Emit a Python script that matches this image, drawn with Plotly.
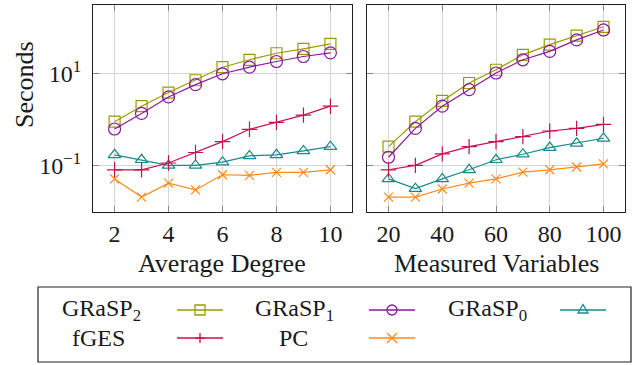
import plotly.graph_objects as go

# ---- data ----
avg_degree = [2, 3, 4, 5, 6, 7, 8, 9, 10]
measured_vars = [20, 30, 40, 50, 60, 70, 80, 90, 100]

deg_grasp2 = [0.90, 1.95, 3.85, 7.1, 13.6, 19.7, 27.3, 34.0, 43.6]
deg_grasp1 = [0.625, 1.36, 3.09, 5.7, 9.8, 13.7, 18.1, 23.2, 27.8]
deg_grasp0 = [0.173, 0.135, 0.102, 0.102, 0.12, 0.164, 0.173, 0.21, 0.26]
deg_fges = [0.082, 0.082, 0.115, 0.194, 0.333, 0.617, 0.87, 1.25, 1.95]
deg_pc = [0.052, 0.021, 0.042, 0.030, 0.064, 0.062, 0.072, 0.072, 0.082]

var_grasp2 = [0.26, 0.90, 2.54, 6.2, 12.0, 25.2, 42.0, 65.6, 102.0]
var_grasp1 = [0.153, 0.645, 1.95, 4.46, 10.2, 19.7, 30.0, 53.0, 87.0]
var_grasp0 = [0.052, 0.032, 0.052, 0.082, 0.135, 0.178, 0.248, 0.307, 0.394]
var_fges = [0.082, 0.102, 0.181, 0.26, 0.333, 0.427, 0.566, 0.645, 0.787]
var_pc = [0.021, 0.021, 0.0315, 0.042, 0.052, 0.073, 0.082, 0.094, 0.110]

series_names = ["GRaSP<sub>2</sub>", "GRaSP<sub>1</sub>", "GRaSP<sub>0</sub>", "fGES", "PC"]
y_tickvals = [0.1, 10]
y_ticktext = ["10<sup>−1</sup>", "10<sup>1</sup>"]
x1_ticks = [2, 4, 6, 8, 10]
x2_ticks = [20, 40, 60, 80, 100]

# ---- styles ----
W, H = 636, 365
colors = ["#9a9a00", "#8b1a9b", "#178a8a", "#c8104f", "#ff8a1a"]
symbols = ["square-open", "circle-open", "triangle-up-open", "cross-thin-open", "x-thin-open"]
msizes = [11, 12, 11, 11, 9]
FONT = "Liberation Serif, Times New Roman, Times, serif"
TXT = "#1a1a1a"

fig = go.Figure()
deg_sets = [deg_grasp2, deg_grasp1, deg_grasp0, deg_fges, deg_pc]
var_sets = [var_grasp2, var_grasp1, var_grasp0, var_fges, var_pc]
for i in range(5):
    for xs, ys, xa, ya in [(avg_degree, deg_sets[i], "x", "y"), (measured_vars, var_sets[i], "x2", "y2")]:
        fig.add_trace(go.Scatter(
            x=xs, y=ys, xaxis=xa, yaxis=ya, mode="lines+markers",
            name=series_names[i], showlegend=False,
            line=dict(color=colors[i], width=1.2),
            marker=dict(symbol=symbols[i], size=msizes[i], color=colors[i],
                        line=dict(color=colors[i], width=1.2)),
        ))

def px(x):
    return x / W

def py(y):
    return 1 - y / H

axis_common = dict(
    showline=True, linecolor="#222", linewidth=1.2, mirror="ticks",
    ticks="inside", ticklen=6, tickcolor="#888", tickwidth=1.2,
    showgrid=True, gridcolor="#d6d6d6", gridwidth=1.2, zeroline=False,
    tickfont=dict(family=FONT, size=24, color=TXT),
)

fig.update_layout(
    width=W, height=H, margin=dict(l=0, r=0, t=0, b=0),
    paper_bgcolor="white", plot_bgcolor="white", showlegend=False,
    xaxis=dict(domain=[px(93), px(352)], range=[1.2, 10.8], tickvals=x1_ticks, **axis_common),
    xaxis2=dict(domain=[px(367), px(625)], range=[12, 108], tickvals=x2_ticks, **axis_common),
    yaxis=dict(domain=[py(212), py(5)], type="log", range=[-2.0, 2.48],
               tickvals=y_tickvals, ticktext=y_ticktext, anchor="x",
               ticklabelstandoff=6, **axis_common),
    yaxis2=dict(domain=[py(212), py(5)], type="log", range=[-2.0, 2.48],
                tickvals=y_tickvals, showticklabels=False, anchor="x2", **axis_common),
)

title_font = dict(family=FONT, size=26, color=TXT)
ann = []
ann.append(dict(text="Average Degree", x=px(222), y=py(263), xref="paper", yref="paper",
                xanchor="center", yanchor="middle", showarrow=False, font=title_font))
ann.append(dict(text="Measured Variables", x=px(496), y=py(263), xref="paper", yref="paper",
                xanchor="center", yanchor="middle", showarrow=False, font=title_font))
ann.append(dict(text="Seconds", x=px(24), y=py(85), xref="paper", yref="paper", textangle=-90,
                xanchor="center", yanchor="middle", showarrow=False, font=title_font))

# ---- custom legend (text then sample) ----
shapes = [dict(type="rect", xref="paper", yref="paper", x0=px(38), x1=px(631), y0=py(362), y1=py(287),
               line=dict(color="#222", width=1.2), fillcolor="rgba(0,0,0,0)")]
leg_pos = [(101, 200, 310), (294, 392, 310), (487, 583, 310), (98, 200, 338), (293, 392, 338)]

def marker_shape(kind, cx, cy, color, r=5):
    common = dict(xref="paper", yref="paper", line=dict(color=color, width=1.3))
    if kind == 0:
        return [dict(type="rect", x0=px(cx - r), x1=px(cx + r), y0=py(cy + r), y1=py(cy - r), **common)]
    if kind == 1:
        return [dict(type="circle", x0=px(cx - r), x1=px(cx + r), y0=py(cy + r), y1=py(cy - r), **common)]
    if kind == 2:
        path = f"M {px(cx-r)} {py(cy+r*0.6)} L {px(cx+r)} {py(cy+r*0.6)} L {px(cx)} {py(cy-r*1.1)} Z"
        return [dict(type="path", path=path, **common)]
    if kind == 3:
        return [dict(type="line", x0=px(cx - r), x1=px(cx + r), y0=py(cy), y1=py(cy), **common),
                dict(type="line", x0=px(cx), x1=px(cx), y0=py(cy - r), y1=py(cy + r), **common)]
    return [dict(type="line", x0=px(cx - r), x1=px(cx + r), y0=py(cy - r), y1=py(cy + r), **common),
            dict(type="line", x0=px(cx - r), x1=px(cx + r), y0=py(cy + r), y1=py(cy - r), **common)]

for i, (tx, sx, yy) in enumerate(leg_pos):
    ann.append(dict(text=series_names[i], x=px(tx), y=py(yy), xref="paper", yref="paper",
                    showarrow=False, xanchor="center", yanchor="middle",
                    font=dict(family=FONT, size=24, color=TXT)))
    shapes.append(dict(type="line", xref="paper", yref="paper", x0=px(sx - 23), x1=px(sx + 23),
                       y0=py(yy), y1=py(yy), line=dict(color=colors[i], width=1.3)))
    shapes.extend(marker_shape(i, sx, yy, colors[i]))

fig.update_layout(annotations=ann, shapes=shapes)
fig.write_html("out.html")
